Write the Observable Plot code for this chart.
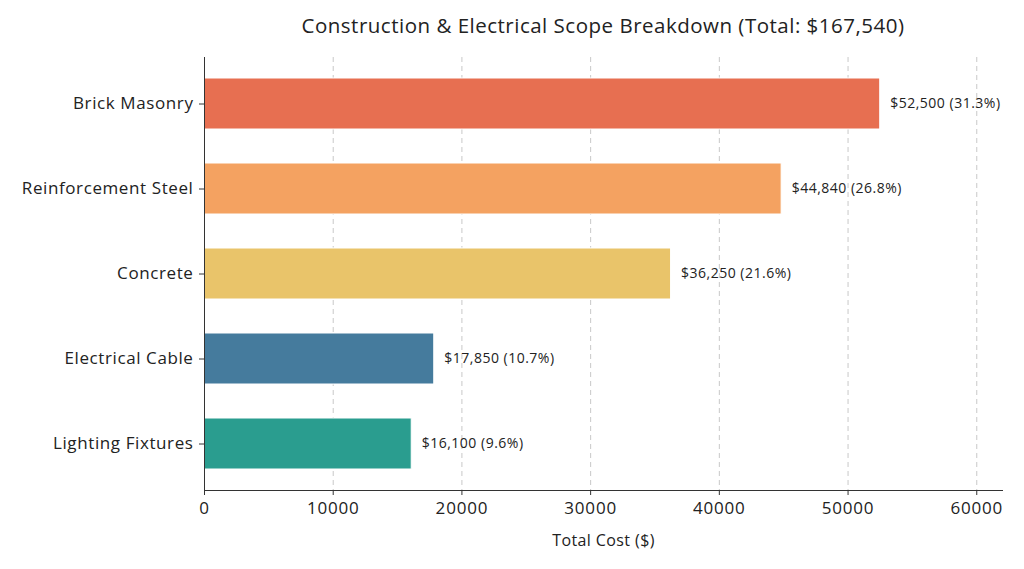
<!DOCTYPE html>
<html>
<head>
<meta charset="utf-8">
<script src="https://cdn.jsdelivr.net/npm/d3@7"></script>
<script src="https://cdn.jsdelivr.net/npm/@observablehq/plot@0.6"></script>
<style>
  html, body { margin: 0; padding: 0; background: #fff; }
  body { width: 1024px; height: 569px; overflow: hidden; font-family: "Open Sans", sans-serif; }
  #title { position: relative; height: 50px; }
  #title span { position: absolute; left: 603px; top: 11px; transform: translateX(-50%); font-size: 20.5px; letter-spacing: 0.5px; color: #222; white-space: nowrap; }
  #chart svg g[aria-label="y-axis tick label"] text { letter-spacing: 0.6px; }
  #chart svg g[aria-label="x-axis tick label"] text { letter-spacing: 0.8px; }
  #chart svg g[aria-label="text"] text { letter-spacing: 0.5px; }
  #chart svg g[aria-label="x-axis label"] text { letter-spacing: 0.4px; }
</style>
</head>
<body>
<div id="title"><span>Construction &amp; Electrical Scope Breakdown (Total: $167,540)</span></div>
<div id="chart"></div>
<script>
const categories = ["Brick Masonry", "Reinforcement Steel", "Concrete", "Electrical Cable", "Lighting Fixtures"];
const costs = [52500, 44840, 36250, 17850, 16100];
const colors = ["#E76F51", "#F4A261", "#E9C46A", "#457B9D", "#2A9D8F"];
const xTicks = [0, 10000, 20000, 30000, 40000, 50000, 60000];

const total = d3.sum(costs);
const data = categories.map((c, i) => ({
  category: c,
  cost: costs[i],
  color: colors[i],
  label: "$" + d3.format(",")(costs[i]) + " (" + (costs[i] / total * 100).toFixed(1) + "%)"
}));

const chart = Plot.plot({
  width: 1024,
  height: 519,
  marginTop: 7,
  marginBottom: 79,
  marginLeft: 204,
  marginRight: 22,
  style: { fontFamily: "Open Sans, sans-serif", color: "#222", background: "#fff" },
  x: { domain: [0, 62000], ticks: xTicks },
  y: { domain: categories, paddingInner: 0.4, paddingOuter: 0.22 },
  marks: [
    Plot.gridX(xTicks, { stroke: "#c8c8c8", strokeOpacity: 1, strokeDasharray: "5,4" }),
    Plot.barX(data, { y: "category", x: "cost", fill: "color", stroke: "white", strokeWidth: 1 }),
    Plot.text(data, { y: "category", x: "cost", text: "label", textAnchor: "start", dx: 10, fontSize: 14, fill: "#222" }),
    Plot.frame({ anchor: "left", stroke: "#333" }),
    Plot.frame({ anchor: "bottom", stroke: "#333" }),
    Plot.axisX(xTicks, { tickSize: 5, tickPadding: 6, fontSize: 17, tickFormat: d => String(d), label: "Total Cost ($)", labelAnchor: "center", labelArrow: "none", labelOffset: 55, stroke: "#333" }),
    Plot.axisY({ tickSize: 5, tickPadding: 6, fontSize: 17, label: null, stroke: "#333" })
  ]
});
chart.querySelectorAll('g[aria-label="x-axis label"] text').forEach(t => t.setAttribute("font-size", "16"));
document.getElementById("chart").appendChild(chart);
</script>
</body>
</html>
